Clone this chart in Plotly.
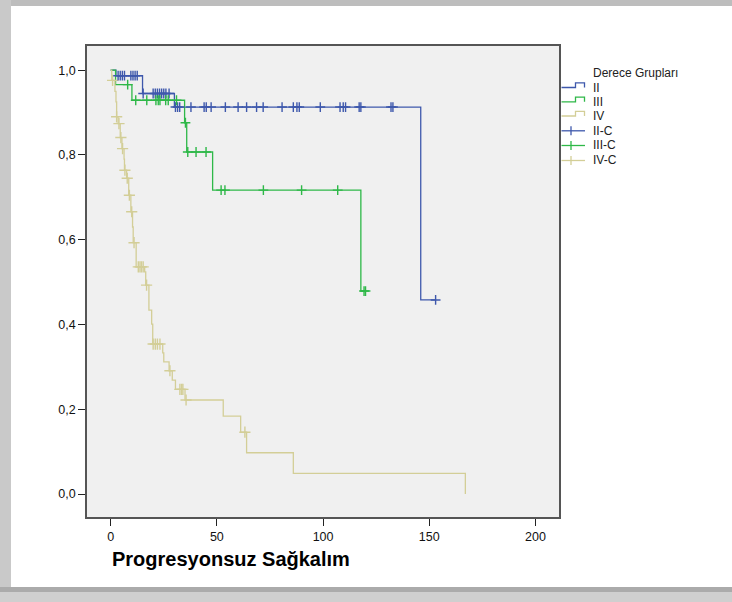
import plotly.graph_objects as go

# Kaplan-Meier step data per grade group: event times and survival after each step
ii_time = [0, 2.5, 15, 30, 146, 153]
ii_surv = [1.0, 0.987, 0.945, 0.913, 0.458, 0.458]
ii_cens_time = [3.5, 4.5, 5.5, 6.5, 9.5, 10.5, 11.5, 12.5,
                15.3, 20, 21, 22, 23, 24, 25, 26, 27.5,
                30.5, 31.5, 32.5, 37.8, 44, 45, 47.3, 54, 60, 64, 68.7, 71.8,
                80.7, 86, 87.7, 88.8, 98.7, 108, 109.5, 110.6, 117, 117.8, 132, 132.9,
                153]
ii_cens_surv = [0.987] * 8 + [0.945] * 9 + [0.913] * 24 + [0.458]

iii_time = [0, 2.3, 10, 34.8, 35.8, 48, 117.8, 120]
iii_surv = [1.0, 0.966, 0.929, 0.876, 0.807, 0.717, 0.479, 0.479]
iii_cens_time = [8, 11.8, 17, 21.3, 22.4, 23.2, 25.9, 27.1, 31,
                 35.2, 36.3, 40.2, 44.9,
                 52, 53.8, 71.9, 89.9, 106.9,
                 119.3, 120]
iii_cens_surv = [0.966] + [0.929] * 8 + [0.876] + [0.807] * 3 + [0.717] * 5 + [0.479] * 2

iv_time = [0, 0.5, 2, 2.5, 2.8, 3.5, 4.5, 5.3, 6.3, 6.5, 7.5, 8.5, 9.5, 10.3, 10.6,
           12, 16, 16.5, 18, 19.3, 19.8, 24.5, 25, 27.5, 29, 30.5, 35, 53, 61.2, 64, 86, 167]
iv_surv = [1.0, 0.976, 0.95, 0.925, 0.89, 0.874, 0.841, 0.815, 0.79, 0.764, 0.745, 0.705,
           0.666, 0.63, 0.593, 0.536, 0.524, 0.493, 0.434, 0.401, 0.354, 0.333, 0.312,
           0.291, 0.269, 0.247, 0.222, 0.184, 0.146, 0.0975, 0.049, 0.0]
iv_cens_time = [0.9, 2.8, 3.9, 4.8, 5.6, 6.7, 7.8, 8.8, 9.9, 11,
                13, 13.8, 14.5, 15.3, 16.9, 20, 21, 22, 23.2, 27.9,
                32.6, 33.4, 34, 35.5, 63.2]
iv_cens_surv = [0.976, 0.89, 0.874, 0.841, 0.815, 0.764, 0.745, 0.705, 0.666, 0.593,
                0.536, 0.536, 0.536, 0.536, 0.493, 0.354, 0.354, 0.354, 0.354, 0.291,
                0.247, 0.247, 0.247, 0.222, 0.146]

x_ticks = [0, 50, 100, 150, 200]
y_ticks = [0.0, 0.2, 0.4, 0.6, 0.8, 1.0]
y_tick_text = ["0,0", "0,2", "0,4", "0,6", "0,8", "1,0"]

legend_title = "Derece Grupları"
legend_names = ["II", "III", "IV", "II-C", "III-C", "IV-C"]
x_title = "Progresyonsuz Sağkalım"

BLUE = "#3E58AC"
GREEN = "#2EB848"
TAN = "#D3CE97"
FONT = "Arial, Liberation Sans, sans-serif"

# plot area in page pixels
L, R, T, B = 87, 559, 46, 517
W, H = 732, 602


def px(x):
    return (x - L) / (R - L)


def py(y):
    return (B - y) / (B - T)


fig = go.Figure()

for t, s, c in [(ii_time, ii_surv, BLUE), (iii_time, iii_surv, GREEN), (iv_time, iv_surv, TAN)]:
    fig.add_trace(go.Scatter(x=t, y=s, mode="lines", line=dict(color=c, width=1.3, shape="hv"),
                             showlegend=False, hoverinfo="skip"))

for t, s, c, sz in [(iv_cens_time, iv_cens_surv, TAN, 8),
                    (ii_cens_time, ii_cens_surv, BLUE, 7),
                    (iii_cens_time, iii_cens_surv, GREEN, 7)]:
    fig.add_trace(go.Scatter(x=t, y=s, mode="markers",
                             marker=dict(symbol="cross-thin", size=sz, line=dict(color=c, width=1.4)),
                             showlegend=False, hoverinfo="skip"))

shapes = []
# page frame: grey border strips around the white panel
shapes.append(dict(type="rect", xref="paper", yref="paper", x0=px(0), x1=px(W), y0=py(0), y1=py(6),
                   fillcolor="#BDBDBD", line=dict(width=0), layer="below"))
shapes.append(dict(type="rect", xref="paper", yref="paper", x0=px(0), x1=px(11), y0=py(0), y1=py(W),
                   fillcolor="#C9C9C9", line=dict(width=0), layer="below"))
shapes.append(dict(type="rect", xref="paper", yref="paper", x0=px(0), x1=px(W), y0=py(587), y1=py(592),
                   fillcolor="#ABABAB", line=dict(width=0), layer="below"))
shapes.append(dict(type="rect", xref="paper", yref="paper", x0=px(0), x1=px(W), y0=py(592), y1=py(H),
                   fillcolor="#CFCFCF", line=dict(width=0), layer="below"))

# custom legend glyphs
item_y = [87.5, 101.8, 116.0, 130.8, 145.5, 160.5]
colors = [BLUE, GREEN, TAN, BLUE, GREEN, TAN]
annotations = [dict(text=legend_title, x=px(591), y=py(73.3), xref="paper", yref="paper",
                    xanchor="left", yanchor="middle", showarrow=False,
                    font=dict(family=FONT, size=12, color="#222"))]
for i, (name, c, yc) in enumerate(zip(legend_names, colors, item_y)):
    if i < 3:
        path = (f"M {px(561.5)},{py(yc)} L {px(575.5)},{py(yc)} L {px(575.5)},{py(yc - 4.7)} "
                f"L {px(584.5)},{py(yc - 4.7)} L {px(584.5)},{py(yc)}")
        shapes.append(dict(type="path", xref="paper", yref="paper", path=path,
                           line=dict(color=c, width=1.3)))
    else:
        shapes.append(dict(type="line", xref="paper", yref="paper", x0=px(561.5), x1=px(585),
                           y0=py(yc), y1=py(yc), line=dict(color=c, width=1.3)))
        shapes.append(dict(type="line", xref="paper", yref="paper", x0=px(571), x1=px(571),
                           y0=py(yc - 4.5), y1=py(yc + 4.5), line=dict(color=c, width=1.3)))
    annotations.append(dict(text=name, x=px(591), y=py(yc), xref="paper", yref="paper",
                            xanchor="left", yanchor="middle", showarrow=False,
                            font=dict(family=FONT, size=12, color="#222")))

annotations.append(dict(text=f"<b>{x_title}</b>", x=px(230.5), y=py(558.5), xref="paper", yref="paper",
                        xanchor="center", yanchor="middle", showarrow=False,
                        font=dict(family=FONT, size=20, color="#000")))

fig.update_layout(
    width=W, height=H,
    margin=dict(l=L, r=W - R, t=T, b=H - B),
    paper_bgcolor="white",
    plot_bgcolor="#F0F0F0",
    shapes=shapes,
    annotations=annotations,
    showlegend=False,
    xaxis=dict(range=[-11.15, 211.1], tickvals=x_ticks, ticks="outside", ticklen=7, tickcolor="#222",
               showgrid=False, zeroline=False, showline=True, mirror=True, linecolor="#555",
               linewidth=1.5, tickfont=dict(family=FONT, size=12.5, color="#111")),
    yaxis=dict(range=[-0.054, 1.057], tickvals=y_ticks, ticktext=y_tick_text, ticks="outside",
               ticklen=7, tickcolor="#222", showgrid=False, zeroline=False, showline=True,
               mirror=True, linecolor="#555", linewidth=1.5,
               tickfont=dict(family=FONT, size=12.5, color="#111")),
)

fig.write_html("out.html")
